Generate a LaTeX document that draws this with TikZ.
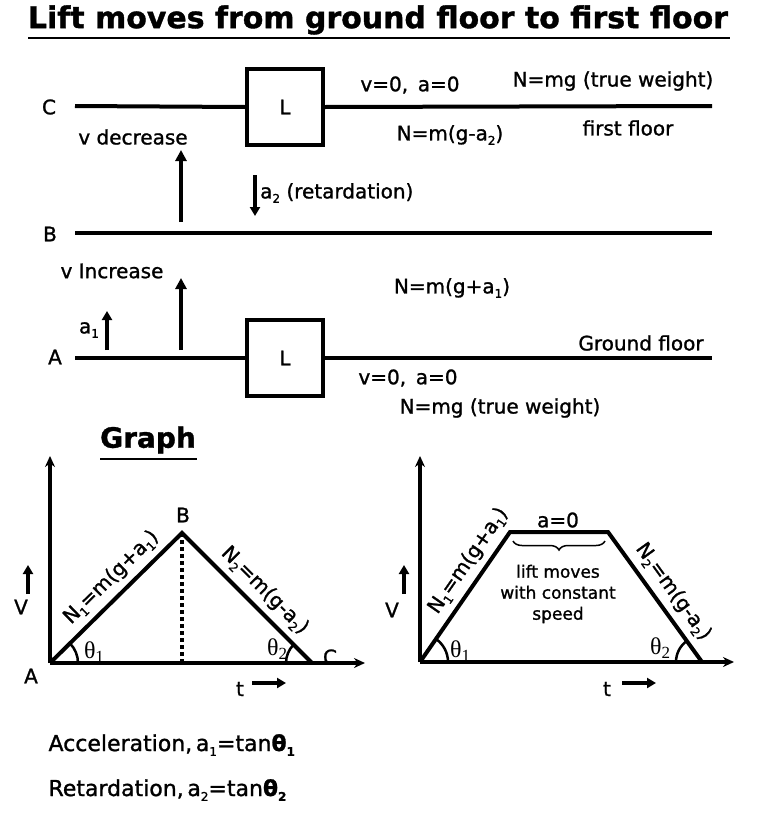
\documentclass[tikz,border=0pt]{standalone}
\usepackage{fontspec}
\usepackage{graphicx}
\setmainfont{DejaVu Sans}[FakeBold=1.2]
\newfontfamily\thetafont{Liberation Serif}
\usetikzlibrary{arrows.meta,decorations.pathreplacing,calc}
\newcommand\lsb[1]{\raisebox{-0.4ex}{\fontsize{12}{12}\selectfont #1}}
\newcommand\thsb[1]{\raisebox{-0.3ex}{\fontsize{17}{17}\selectfont #1}}
\begin{document}
\begin{tikzpicture}[x=1pt,y=1pt,
  lbl/.style={inner sep=1pt,font=\fontsize{20}{22}\selectfont},
  floor/.style={line width=4pt},
  liftbox/.style={draw,line width=4pt,minimum width=76pt,minimum height=76pt,font=\fontsize{20}{22}\selectfont},
  uparrow/.style={line width=3.5pt,-{Triangle[length=11pt,width=11pt]}},
  smallarrow/.style={line width=3.5pt,-{Triangle[length=9pt,width=10pt]}},
  axis/.style={line width=3.5pt,-{Stealth[length=11pt,width=10pt]}},
  curve/.style={line width=4pt,line join=miter},
  anglearc/.style={line width=2.5pt},
  glbl/.style={inner sep=2pt,font=\fontsize{20}{22}\selectfont},
  theta/.style={inner sep=1pt,font=\thetafont\fontsize{24}{24}\selectfont}
]
\useasboundingbox (0,0) rectangle (757,-814);

% Title
\node[font=\bfseries] (title) at (378,-20) {\resizebox{700pt}{!}{Lift moves from ground floor to first floor}};
\coordinate (tu1) at (28,-38); \coordinate (tu2) at (730,-38);
\draw[line width=2.5pt] (tu1) -- (tu2);

% First floor (C)
\node[liftbox] (L1) at (285,-107) {L};
\coordinate (C0) at (75,-106); \coordinate (C9) at (712,-106);
\draw[floor] (C0) -- (L1.west);
\draw[floor] (L1.east) -- (C9);
\node[lbl] (labC) at (49,-107) {C};
\node[lbl] (v0top) at (410,-85) {v=0,\, a=0};
\node[lbl] (Nmgtop) at (613,-81) {N=mg (true weight)};
\node[lbl] (vdec) at (133,-137) {v decrease};
\node[lbl] (Nminus) at (450,-135) {N=m(g-a\lsb{2})};
\node[lbl] (ff) at (628,-128) {first floor};

\coordinate (u1a) at (181,-222); \coordinate (u1b) at (181,-150);
\draw[uparrow] (u1a) -- (u1b);
\coordinate (d2a) at (255,-175); \coordinate (d2b) at (255,-216);
\draw[smallarrow] (d2a) -- (d2b);
\node[lbl,anchor=west] (ret) at (259,-193) {a\lsb{2} (retardation)};

% B line
\coordinate (B0) at (75,-233); \coordinate (B9) at (712,-233);
\draw[floor] (B0) -- (B9);
\node[lbl] (labB) at (50,-234) {B};

% Ground floor (A)
\node[lbl] (vinc) at (112,-271) {v Increase};
\coordinate (u2a) at (181,-350); \coordinate (u2b) at (181,-278);
\draw[uparrow] (u2a) -- (u2b);
\node[lbl] (Nplus) at (452,-288) {N=m(g+a\lsb{1})};
\node[lbl] (a1) at (89,-330) {a\lsb{1}};
\coordinate (a1a) at (107,-350); \coordinate (a1b) at (107,-311);
\draw[smallarrow] (a1a) -- (a1b);

\node[liftbox] (L2) at (285,-358) {L};
\coordinate (A0) at (75,-358); \coordinate (A9) at (712,-358);
\draw[floor] (A0) -- (L2.west);
\draw[floor] (L2.east) -- (A9);
\node[lbl] (labA) at (55,-357) {A};
\node[lbl] (gf) at (641,-343) {Ground floor};
\node[lbl] (v0bot) at (408,-378) {v=0,\, a=0};
\node[lbl] (Nmgbot) at (500,-408) {N=mg (true weight)};

% Graph heading
\node[font=\fontsize{28}{30}\selectfont\bfseries] (graph) at (148,-440) {Graph};
\coordinate (gu1) at (100,-459); \coordinate (gu2) at (197,-459);
\draw[line width=2.5pt] (gu1) -- (gu2);

% Graph 1
\coordinate (O1) at (50,-663);
\coordinate (Y1) at (50,-456);
\coordinate (X1) at (365,-663);
\draw[axis] (O1) -- (Y1);
\draw[axis] (O1) -- (X1);
\coordinate (GA) at (50,-663);
\coordinate (GB) at (182,-533);
\coordinate (GC) at (312,-663);
\coordinate (GF) at (182,-663);
\draw[curve] (GA) -- node[pos=0.56,sloped,above=4pt,glbl] (N1a) {N\lsb{1}=m(g+a\lsb{1})} (GB)
  -- node[pos=0.54,sloped,above=4pt,glbl] (N2a) {N\lsb{2}=m(g-a\lsb{2})} (GC);
\draw[line width=4pt,dash pattern=on 4pt off 3pt] (GB) -- (GF);
\draw[anglearc] ($(GA)+(28,0)$) arc[start angle=0,end angle=44.6,radius=28];
\draw[anglearc] ($(GC)+(-26,0)$) arc[start angle=180,end angle=135,radius=26];
\node[theta] (th1a) at (94,-652) {θ\thsb{1}};
\node[theta] (th2a) at (277,-649) {θ\thsb{2}};
\node[glbl] (gBl) at (183,-515) {B};
\node[glbl] (gCl) at (330,-657) {C};
\node[glbl] (gAl) at (31,-676) {A};
\node[glbl] (t1) at (240,-689) {t};
\coordinate (t1a) at (252,-683); \coordinate (t1b) at (286,-683);
\draw[smallarrow] (t1a) -- (t1b);
\node[glbl] (V1) at (21,-607) {V};
\coordinate (v1a) at (28,-594); \coordinate (v1b) at (28,-565);
\draw[smallarrow] (v1a) -- (v1b);

% Graph 2
\coordinate (O2) at (420,-662);
\coordinate (Y2) at (420,-456);
\coordinate (X2) at (734,-662);
\draw[axis] (O2) -- (Y2);
\draw[axis] (O2) -- (X2);
\coordinate (P1) at (420,-662);
\coordinate (P2) at (510,-532);
\coordinate (P3) at (608,-532);
\coordinate (P4) at (702,-662);
\draw[curve] (P1) -- node[pos=0.70,sloped,above=4pt,glbl] (N1b) {N\lsb{1}=m(g+a\lsb{1})} (P2)
  -- (P3) -- node[pos=0.54,sloped,above=4pt,glbl] (N2b) {N\lsb{2}=m(g-a\lsb{2})} (P4);
\draw[anglearc] ($(P1)+(28,0)$) arc[start angle=0,end angle=55.3,radius=28];
\draw[anglearc] ($(P4)+(-26,0)$) arc[start angle=180,end angle=125.9,radius=26];
\node[theta] (th1b) at (460,-651) {θ\thsb{1}};
\node[theta] (th2b) at (660,-648) {θ\thsb{2}};
\node[glbl] (azero) at (558,-520) {a=0};
\coordinate (br1) at (513,-541); \coordinate (br2) at (605,-541);
\draw[line width=1.5pt,decorate,decoration={brace,mirror,amplitude=9pt}] (br1) -- (br2);
\node[align=center,font=\fontsize{17}{21}\selectfont] (const) at (558,-594) {lift moves\\with constant\\speed};
\node[glbl] (t2) at (607,-689) {t};
\coordinate (t2a) at (622,-683); \coordinate (t2b) at (656,-683);
\draw[smallarrow] (t2a) -- (t2b);
\node[glbl] (V2) at (392,-610) {V};
\coordinate (v2a) at (404,-594); \coordinate (v2b) at (404,-565);
\draw[smallarrow] (v2a) -- (v2b);

% Formulas
\node[anchor=west,font=\fontsize{22}{24}\selectfont] (acc) at (45,-745) {Acceleration,\,a\lsb{1}=tan\textbf{θ}\lsb{\textbf{1}}};
\node[anchor=west,font=\fontsize{22}{24}\selectfont] (retf) at (45,-790) {Retardation,\,a\lsb{2}=tan\textbf{θ}\lsb{\textbf{2}}};
\end{tikzpicture}
\end{document}
